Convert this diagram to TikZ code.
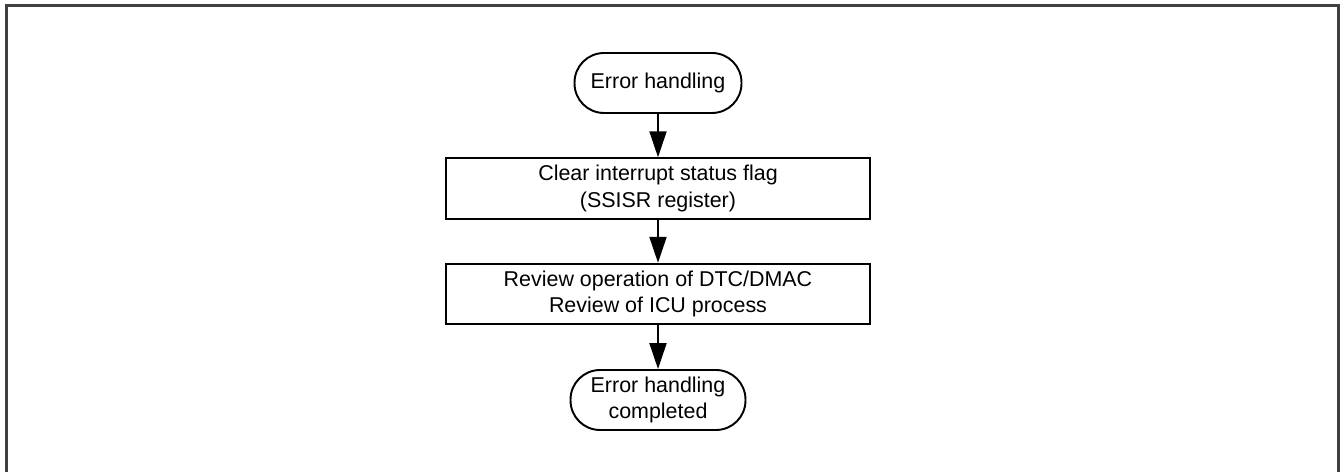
\documentclass[tikz,border=0pt]{standalone}
\usepackage{fontspec}
\setmainfont{Liberation Sans}
\usetikzlibrary{arrows.meta}
\tikzset{
  term/.style={draw, line width=1.1pt, rounded corners=0.59cm, minimum width=#1, minimum height=1.2cm, align=center, inner sep=0pt},
  procbox/.style={draw, line width=1.1pt, minimum width=8.48cm, minimum height=1.21cm, align=center, inner sep=0pt},
  flow/.style={line width=1.1pt, -{Triangle[length=0.52cm, width=0.34cm]}}
}
\begin{document}
\begin{tikzpicture}[x=0.02cm, y=-0.02cm, font=\fontsize{12.2}{14.9}\selectfont]
				\useasboundingbox (0,0) rectangle (1341,472);
				\draw[line width=1.3pt, black!75] (6.5,480) -- (6.5,5.5) -- (1338.5,5.5) -- (1338.5,480);
				
				\node[term=3.34cm] (start) at (658,83) {Error handling};
				\node[procbox] (clr) at (658,188.5) {Clear interrupt status flag\\(SSISR register)};
				\node[procbox] (rev) at (658,294) {Review operation of DTC/DMAC\\Review of ICU process};
				\node[term=3.5cm] (done) at (658,400) {Error handling\\completed};
				
				\draw[flow] (start) -- (clr);
				\draw[flow] (clr) -- (rev);
				\draw[flow] (rev) -- (done);
			\end{tikzpicture}
\end{document}
